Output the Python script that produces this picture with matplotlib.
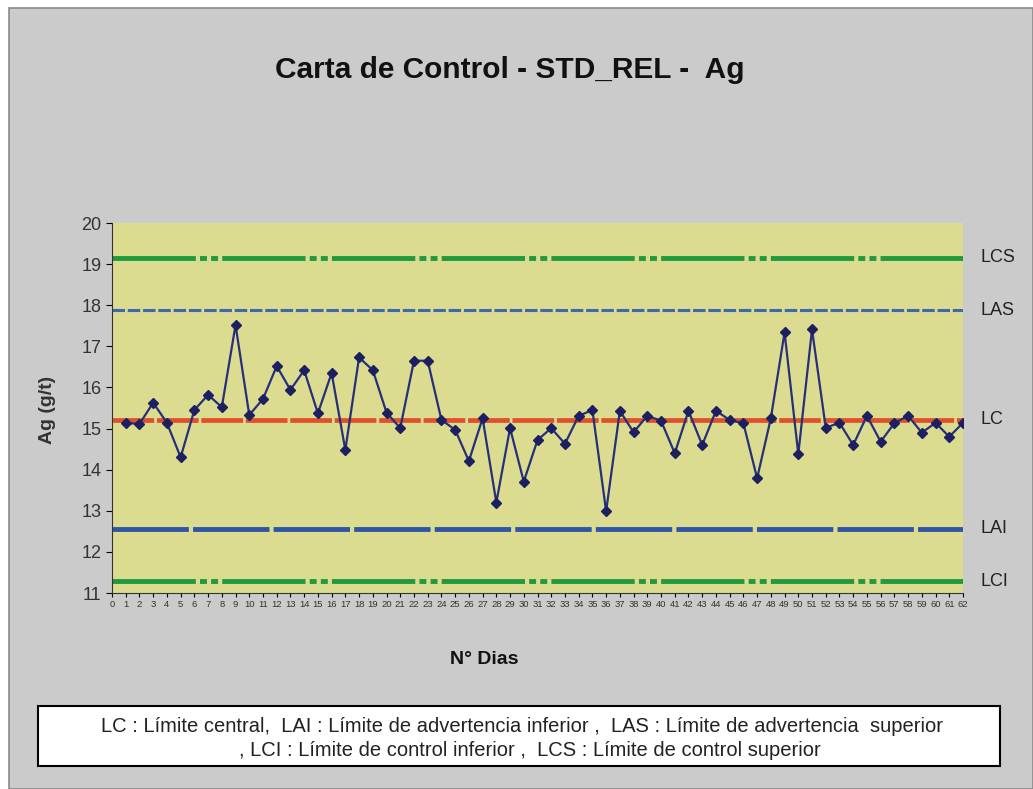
import numpy as np
import matplotlib.pyplot as plt
from matplotlib.patches import Rectangle

plt.rcParams['font.family'] = ['Liberation Sans', 'DejaVu Sans']
plt.rcParams['lines.scale_dashes'] = False

# daily values Ag (g/t)
dias = list(range(1, 63))
ag = [15.14, 15.11, 15.63, 15.14, 14.30, 15.45, 15.82, 15.52, 17.52, 15.33,
      15.72, 16.52, 15.94, 16.42, 15.37, 16.35, 14.48, 16.73, 16.42, 15.39,
      15.01, 16.65, 16.65, 15.21, 14.97, 14.21, 15.25, 13.20, 15.01, 13.71,
      14.72, 15.01, 14.63, 15.31, 15.45, 12.99, 15.43, 14.91, 15.31, 15.19,
      14.40, 15.43, 14.60, 15.43, 15.21, 15.13, 13.79, 15.25, 17.34, 14.38,
      17.41, 15.02, 15.14, 14.60, 15.31, 14.68, 15.13, 15.31, 14.90, 15.14,
      14.80, 15.14]

# control limits
lim_names = ['LCS', 'LAS', 'LC', 'LAI', 'LCI']
lim_values = [19.16, 17.88, 15.22, 12.56, 11.28]
lim_colors = ['#1f9a3c', '#4068b0', '#e0502a', '#2f56a6', '#1f9a3c']
lim_widths = [3.5, 2.2, 3.4, 3.5, 3.5]
lim_dashes = [(60, 3, 5, 3, 5, 3), (9, 2), (30, 2), (55, 3), (60, 3, 5, 3, 5, 3)]

fig = plt.figure(figsize=(10.33, 7.89), dpi=100)
fig.patch.set_facecolor('white')
fig.patches.append(Rectangle((9 / 1033, 0), 1 - 9 / 1033, 1 - 8 / 789,
                             transform=fig.transFigure, facecolor='#cbcbcb',
                             edgecolor='#8a8a8a', lw=1.2, zorder=-10))

ax = fig.add_axes([112 / 1033, 1 - 593 / 789, 851 / 1033, 370 / 789])
ax.set_facecolor('#dcdc90')

for name, v, c, w, d in zip(lim_names, lim_values, lim_colors, lim_widths, lim_dashes):
    ax.axhline(v, color=c, lw=w, dashes=d, zorder=2)
    ax.text(1.02, v, name, transform=ax.get_yaxis_transform(), fontsize=13,
            va='center', ha='left', color='#222222')

ax.plot(dias, ag, color='#26307a', lw=1.6, marker='D', markersize=5.5,
        markerfacecolor='#1c2060', markeredgecolor='#1c2060', zorder=3)

ax.set_xlim(0, 62)
ax.set_ylim(11, 20)
ax.set_yticks(range(11, 21))
ax.set_xticks(range(0, 63))
ax.set_xticklabels([str(i) for i in range(0, 63)], fontsize=6.8)
ax.tick_params(axis='y', labelsize=13, labelcolor='#333333', direction='out', length=4)
ax.tick_params(axis='x', labelcolor='#333333', direction='out', length=3, pad=2)
for s in ['top', 'right']:
    ax.spines[s].set_visible(False)
ax.spines['left'].set_color('#333333')
ax.spines['bottom'].set_color('#333333')

fig.text(510 / 1033, 1 - 70 / 789, 'Carta de Control - STD_REL -  Ag', fontsize=21.5,
         fontweight='bold', ha='center', va='center', color='#111111')
fig.text(47 / 1033, 1 - 410 / 789, 'Ag (g/t)', fontsize=14, fontweight='bold',
         rotation=90, ha='center', va='center', color='#333333')
fig.text(484 / 1033, 1 - 660 / 789, 'N° Dias', fontsize=14, fontweight='bold',
         ha='center', va='center', color='#111111')

fig.patches.append(Rectangle((38 / 1033, 1 - 766 / 789), 962 / 1033, 60 / 789,
                             transform=fig.transFigure, facecolor='white',
                             edgecolor='black', lw=1.5))
fig.text(522 / 1033, 1 - 726 / 789,
         'LC : Límite central,  LAI : Límite de advertencia inferior ,  LAS : Límite de advertencia  superior',
         fontsize=14.5, ha='center', va='center', color='#222222')
fig.text(530 / 1033, 1 - 751 / 789,
         ', LCI : Límite de control inferior ,  LCS : Límite de control superior',
         fontsize=14.5, ha='center', va='center', color='#222222')

fig.savefig('out.png', dpi=100)
